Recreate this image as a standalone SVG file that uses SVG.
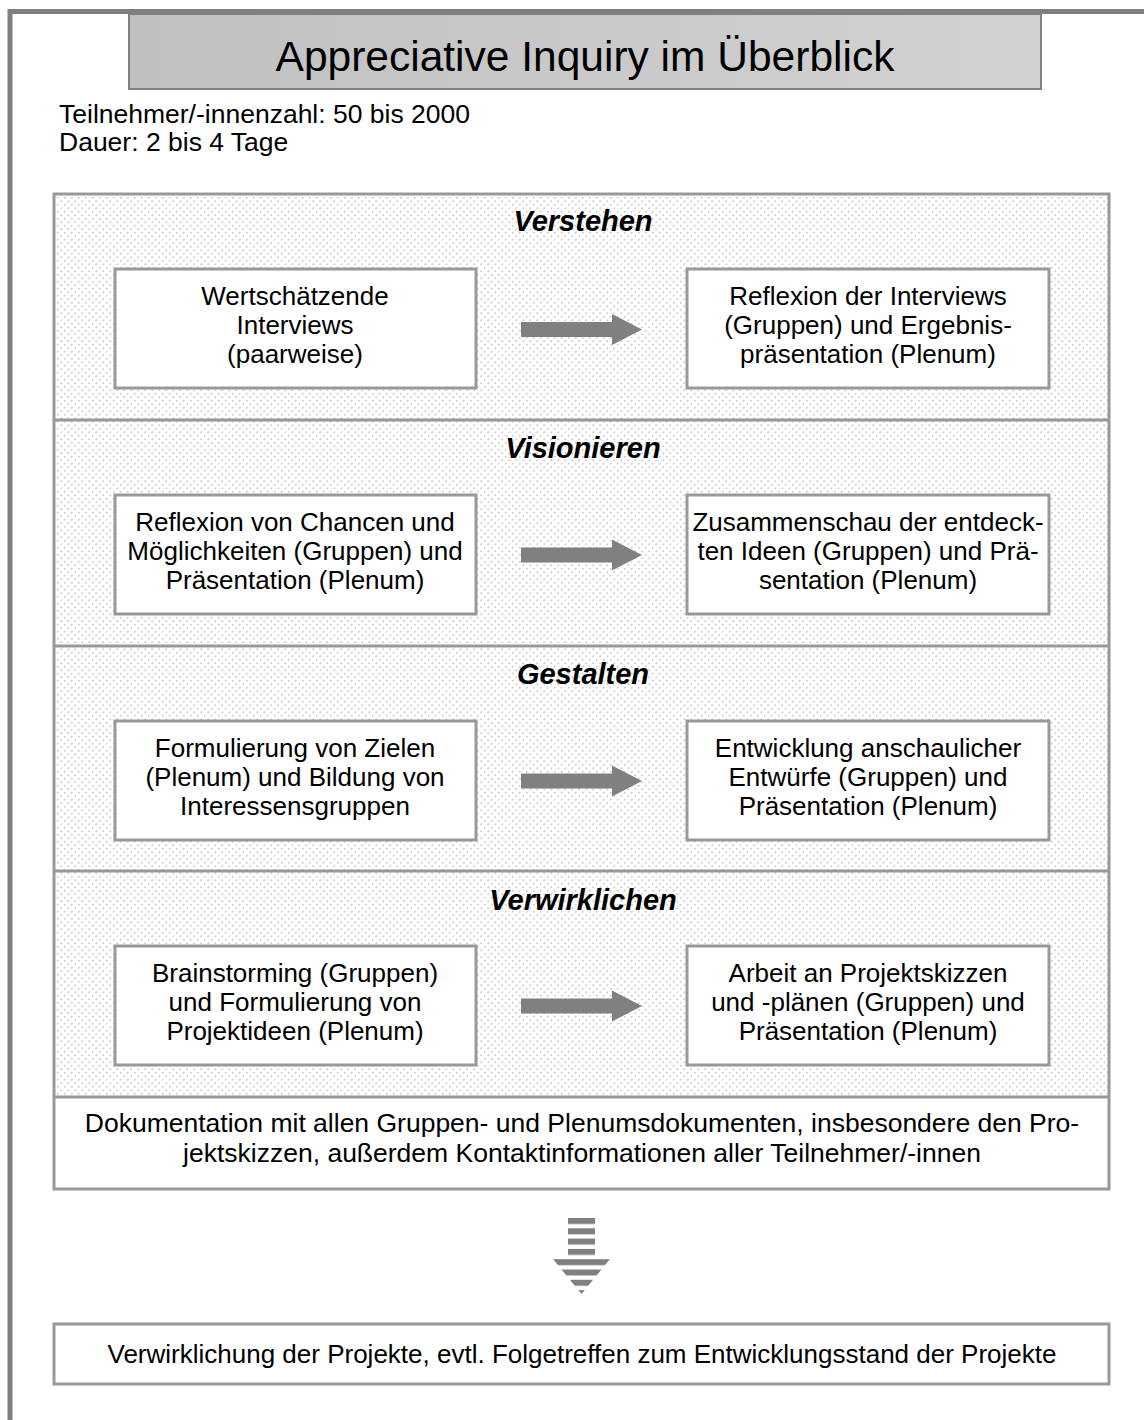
<svg xmlns="http://www.w3.org/2000/svg" width="1144" height="1420" viewBox="0 0 1144 1420">
<style>
text{font-family:"Liberation Sans",Arial,sans-serif;fill:#000;}
.t{font-size:26px;text-anchor:middle;}
.h{font-size:29px;text-anchor:middle;font-weight:bold;font-style:italic;}
.box{fill:#fff;stroke:#999;stroke-width:3;}
.div{stroke:#999;stroke-width:3;}
.arr{fill:#808080;}
</style>
<defs>
<pattern id="dots" width="7" height="7" patternUnits="userSpaceOnUse">
<rect width="7" height="7" fill="#fff"/>
<circle cx="1.75" cy="1.75" r="1" fill="#cdcdcd"/>
<circle cx="5.25" cy="5.25" r="1" fill="#cdcdcd"/>
</pattern>
<linearGradient id="tg" x1="0" y1="0" x2="1" y2="0">
<stop offset="0" stop-color="#c0c0c0"/>
<stop offset="1" stop-color="#d2d2d2"/>
</linearGradient>
<pattern id="stripes" width="10" height="10.3" patternUnits="userSpaceOnUse" y="1218">
<rect width="10" height="6" fill="#808080"/>
</pattern>
<path id="harr" d="M0,-7.5 H91 V-15.5 L121,0 L91,15.5 V7.5 H0 Z"/>
</defs>
<rect width="1144" height="1420" fill="#fff"/>
<path d="M10,1420 V11.5 H1144" fill="none" stroke="#808080" stroke-width="5"/>
<g id="title">
<rect x="129" y="14" width="912" height="75" fill="url(#tg)" stroke="#808080" stroke-width="2"/>
<text x="585" y="71" style="font-size:42.5px;text-anchor:middle">Appreciative Inquiry im Überblick</text>
</g>
<g id="info">
<text x="59" y="123" style="font-size:26.5px">Teilnehmer/-innenzahl: 50 bis 2000</text>
<text x="59" y="151" style="font-size:26.5px">Dauer: 2 bis 4 Tage</text>
</g>
<g id="main">
<rect x="54" y="194" width="1055" height="903" fill="url(#dots)"/>
<rect x="54" y="1097" width="1055" height="92" fill="#fff"/>
<rect x="54" y="194" width="1055" height="995" fill="none" stroke="#999" stroke-width="3"/>
<line class="div" x1="54" y1="420" x2="1109" y2="420"/>
<line class="div" x1="54" y1="646" x2="1109" y2="646"/>
<line class="div" x1="54" y1="871" x2="1109" y2="871"/>
<line class="div" x1="54" y1="1097" x2="1109" y2="1097"/>
</g>
<g id="sec1">
<text class="h" x="583" y="231">Verstehen</text>
</g>
<g id="n1a"><rect class="box" x="115" y="269" width="361" height="119"/>
<text class="t" x="295" y="305">Wertschätzende</text><text class="t" x="295" y="334">Interviews</text><text class="t" x="295" y="363">(paarweise)</text></g>
<g id="n1b"><rect class="box" x="687" y="269" width="362" height="119"/>
<text class="t" x="868" y="305">Reflexion der Interviews</text><text class="t" x="868" y="334">(Gruppen) und Ergebnis-</text><text class="t" x="868" y="363">präsentation (Plenum)</text></g>
<g id="sec2"><text class="h" x="583" y="458">Visionieren</text></g>
<g id="n2a"><rect class="box" x="115" y="495" width="361" height="119"/>
<text class="t" x="295" y="531">Reflexion von Chancen und</text><text class="t" x="295" y="560">Möglichkeiten (Gruppen) und</text><text class="t" x="295" y="589">Präsentation (Plenum)</text></g>
<g id="n2b"><rect class="box" x="687" y="495" width="362" height="119"/>
<text class="t" x="868" y="531">Zusammenschau der entdeck-</text><text class="t" x="868" y="560">ten Ideen (Gruppen) und Prä-</text><text class="t" x="868" y="589">sentation (Plenum)</text></g>
<g id="sec3"><text class="h" x="583" y="684">Gestalten</text></g>
<g id="n3a"><rect class="box" x="115" y="721" width="361" height="119"/>
<text class="t" x="295" y="757">Formulierung von Zielen</text><text class="t" x="295" y="786">(Plenum) und Bildung von</text><text class="t" x="295" y="815">Interessensgruppen</text></g>
<g id="n3b"><rect class="box" x="687" y="721" width="362" height="119"/>
<text class="t" x="868" y="757">Entwicklung anschaulicher</text><text class="t" x="868" y="786">Entwürfe (Gruppen) und</text><text class="t" x="868" y="815">Präsentation (Plenum)</text></g>
<g id="sec4"><text class="h" x="583" y="910">Verwirklichen</text></g>
<g id="n4a"><rect class="box" x="115" y="946" width="361" height="119"/>
<text class="t" x="295" y="982">Brainstorming (Gruppen)</text><text class="t" x="295" y="1011">und Formulierung von</text><text class="t" x="295" y="1040">Projektideen (Plenum)</text></g>
<g id="n4b"><rect class="box" x="687" y="946" width="362" height="119"/>
<text class="t" x="868" y="982">Arbeit an Projektskizzen</text><text class="t" x="868" y="1011">und -plänen (Gruppen) und</text><text class="t" x="868" y="1040">Präsentation (Plenum)</text></g>
<g id="doc">
<text class="t" x="582" y="1132" style="font-size:26.5px">Dokumentation mit allen Gruppen- und Plenumsdokumenten, insbesondere den Pro-</text>
<text class="t" x="582" y="1162" style="font-size:26.5px">jektskizzen, außerdem Kontaktinformationen aller Teilnehmer/-innen</text>
</g>
<g id="connectors">
<use href="#harr" class="arr" x="521" y="329.5"/>
<use href="#harr" class="arr" x="521" y="555"/>
<use href="#harr" class="arr" x="521" y="781"/>
<use href="#harr" class="arr" x="521" y="1006"/>
<path d="M568,1218 H595 V1259 H610 L581.5,1294 L553,1259 H568 Z" fill="url(#stripes)"/>
</g>
<g id="final">
<rect class="box" x="54" y="1324" width="1055" height="60"/>
<text class="t" x="582" y="1363">Verwirklichung der Projekte, evtl. Folgetreffen zum Entwicklungsstand der Projekte</text>
</g>
</svg>
